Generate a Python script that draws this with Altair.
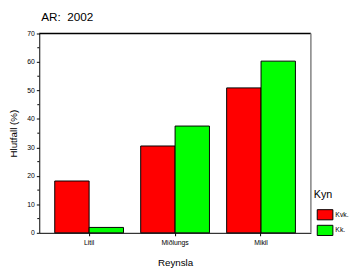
import altair as alt
import pandas as pd

categories = ["Litil", "Miðlungs", "Mikil"]
groups = ["Kvk.", "Kk."]
kvk_values = [18.2, 30.5, 50.9]
kk_values = [1.9, 37.5, 60.3]
major_ticks = [0, 10, 20, 30, 40, 50, 60, 70]
minor_ticks = [5, 15, 25, 35, 45, 55, 65]
colors = ["#FF0000", "#00FF00"]

rows = []
for c, a, b in zip(categories, kvk_values, kk_values):
    rows.append({"Reynsla": c, "Kyn": groups[0], "v": a})
    rows.append({"Reynsla": c, "Kyn": groups[1], "v": b})
df = pd.DataFrame(rows)
minor_df = pd.DataFrame({"v": minor_ticks})
one_df = pd.DataFrame({"z": [0]})

W, H = 278, 204
FONT = "Liberation Sans"

yscale = alt.Scale(domain=[0, 70], nice=False)
yaxis = alt.Axis(title="Hlutfall (%)", values=major_ticks, labelFontSize=7,
                 titleFontSize=10, titlePadding=8, tickSize=3,
                 labelPadding=2, grid=False, domainColor="black",
                 tickColor="black", labelColor="black", titleColor="black",
                 titleFontWeight="normal", labelOverlap=False)

bars = alt.Chart(df).mark_bar(stroke="black", strokeWidth=1).encode(
    x=alt.X("Reynsla:N", sort=categories,
            scale=alt.Scale(paddingInner=0.2, paddingOuter=0.18),
            axis=alt.Axis(title="Reynsla", labelAngle=0, labelFontSize=7,
                          titleFontSize=10, titlePadding=12, tickSize=3,
                          labelPadding=3, domainColor="black", tickColor="black",
                          labelColor="black", titleColor="black",
                          titleFontWeight="normal")),
    xOffset=alt.XOffset("Kyn:N", sort=groups),
    y=alt.Y("v:Q", scale=yscale, axis=yaxis),
    color=alt.Color("Kyn:N", sort=groups,
                    scale=alt.Scale(domain=groups, range=colors),
                    legend=alt.Legend(title="Kyn", orient="none", legendX=281,
                                      legendY=159, titleFontSize=11,
                                      titleFontWeight="normal", labelFontSize=7,
                                      symbolType="M-1,-0.65H1V0.65H-1Z", symbolSize=256,
                                      symbolStrokeColor="black", symbolStrokeWidth=1,
                                      symbolOpacity=1, rowPadding=0, titlePadding=7,
                                      symbolOffset=3, labelOffset=2,
                                      titleColor="black", labelColor="black")),
)

minor = alt.Chart(minor_df).mark_rule(color="black", strokeWidth=1).encode(
    y=alt.Y("v:Q", scale=yscale, axis=yaxis),
    x=alt.value(-2),
    x2=alt.value(0),
)

top_rule = alt.Chart(one_df).mark_rule(color="black", strokeWidth=1.5).encode(
    x=alt.value(0), x2=alt.value(W), y=alt.value(0)
)
right_rule = alt.Chart(one_df).mark_rule(color="#808080", strokeWidth=1.5).encode(
    x=alt.value(W), y=alt.value(0), y2=alt.value(H)
)

chart = alt.layer(bars, minor, top_rule, right_rule).properties(
    width=W, height=H,
    title=alt.Title("AR:\u00a0 2002", anchor="start", frame="group", fontSize=12,
                    fontWeight="normal", font=FONT, offset=6, dx=2, color="black"),
    autosize=alt.AutoSizeParams(type="none"),
    padding={"left": 32, "top": 23, "right": 39, "bottom": 38},
).configure(font=FONT).configure_view(stroke=None).configure_axis(
    labelFont=FONT, titleFont=FONT
).configure_legend(labelFont=FONT, titleFont=FONT)

chart.save("out.html", embed_options={"renderer": "svg", "actions": False})
